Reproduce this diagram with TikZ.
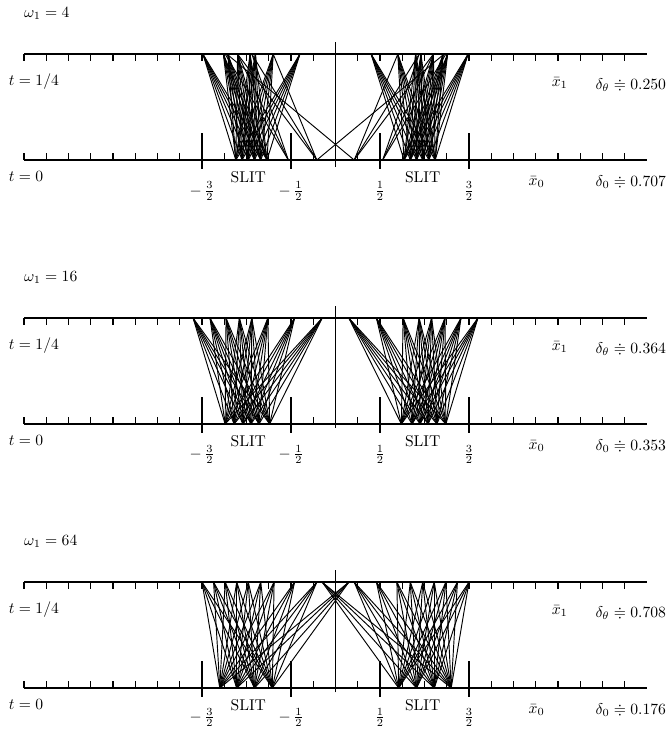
\documentclass[tikz,border=0pt]{standalone}
\usepackage{amsmath,amssymb}

\begin{document}
\begin{tikzpicture}[x=2cm, y=2cm,
    axis/.style={line width=1pt},
    tick/.style={line width=0.7pt},
    ray/.style={line width=0.6pt},
    lbl/.style={inner sep=1pt},
    frc/.style={inner sep=0pt}
  ]
    \useasboundingbox (-3.770,-6.416) rectangle (3.781,1.798);

    %% Panel 1: omega_1 = 4
    \begin{scope}
      \draw[axis] (-3.5,0) -- (3.5,0);
      \draw[axis] (-3.5,1.19) -- (3.5,1.19);
      \foreach \i in {-14,...,13} {
        \draw[tick] (\i/4,0) -- ++(0,0.08);
        \draw[tick] (\i/4,1.19) -- ++(0,-0.08);
      }
      \foreach \x in {-1.5,-0.5,0.5,1.5}
        \draw[tick] (\x,-0.1) -- (\x,0.3);
      \draw[tick] (0,-0.08) -- (0,1.33);
      %% rays of the left slit and their mirror image
      \foreach \s in {1,-1} {
        \begin{scope}[xscale=\s]
          \foreach \b in {-1.12,-1.05,-0.98,-0.91,-0.84,-0.77}
            \foreach \t in {-1.49,-1.26,-1.21,-1.10,-0.96,-0.90,-0.70,-0.40}
              \draw[ray] (\b,0) -- (\t,1.19);
          \foreach \t in {-1.24,-1.10,-0.94}
            \draw[ray] (-0.53,0) -- (\t,1.19);
          \foreach \t in {-1.10,-0.94,-0.70,1.22}
            \draw[ray] (-0.21,0) -- (\t,1.19);
        \end{scope}
      }
      \node[lbl, anchor=west] (wa) at (-3.52,1.65) {$\omega_1 = 4$};
      \node[lbl, anchor=west] (tqa) at (-3.69,0.876) {$t = 1/4$};
      \node[lbl, anchor=west] (tza) at (-3.69,-0.18) {$t = 0$};
      \node[lbl] (xia) at (2.52,0.865) {$\bar{x}_1$};
      \node[lbl, anchor=east] (dta) at (3.735,0.84) {$\delta_\theta \doteqdot 0.250$};
      \node[lbl] (xoa) at (2.26,-0.25) {$\bar{x}_0$};
      \node[lbl, anchor=east] (doa) at (3.735,-0.25) {$\delta_0 \doteqdot 0.707$};
      \node[lbl] (sla) at (-0.98,-0.19) {SLIT};
      \node[lbl] (sra) at (0.98,-0.19) {SLIT};
      \node[frc] (fa1) at (-1.5,-0.35) {$-\,\frac{3}{2}$};
      \node[frc] (fa2) at (-0.5,-0.35) {$-\,\frac{1}{2}$};
      \node[frc] (fa3) at (0.5,-0.35) {$\frac{1}{2}$};
      \node[frc] (fa4) at (1.5,-0.35) {$\frac{3}{2}$};
    \end{scope}

    %% Panel 2: omega_1 = 16
    \begin{scope}[yshift=-5.933cm]
      \draw[axis] (-3.5,0) -- (3.5,0);
      \draw[axis] (-3.5,1.19) -- (3.5,1.19);
      \foreach \i in {-14,...,13} {
        \draw[tick] (\i/4,0) -- ++(0,0.08);
        \draw[tick] (\i/4,1.19) -- ++(0,-0.08);
      }
      \foreach \x in {-1.5,-0.5,0.5,1.5}
        \draw[tick] (\x,-0.1) -- (\x,0.3);
      \draw[tick] (0,-0.04) -- (0,1.33);
      %% rays of the left slit and their mirror image
      \foreach \s in {1,-1} {
        \begin{scope}[xscale=\s]
          \foreach \b in {-1.24,-1.14,-1.04,-0.95,-0.86,-0.74}
            \foreach \t in {-1.60,-1.41,-1.23,-1.08,-0.94,-0.76,-0.46,-0.15}
              \draw[ray] (\b,0) -- (\t,1.19);
        \end{scope}
      }
      \node[lbl, anchor=west] (wb) at (-3.52,1.65) {$\omega_1 = 16$};
      \node[lbl, anchor=west] (tqb) at (-3.69,0.876) {$t = 1/4$};
      \node[lbl, anchor=west] (tzb) at (-3.69,-0.18) {$t = 0$};
      \node[lbl] (xib) at (2.52,0.865) {$\bar{x}_1$};
      \node[lbl, anchor=east] (dtb) at (3.735,0.84) {$\delta_\theta \doteqdot 0.364$};
      \node[lbl] (xob) at (2.26,-0.25) {$\bar{x}_0$};
      \node[lbl, anchor=east] (dob) at (3.735,-0.25) {$\delta_0 \doteqdot 0.353$};
      \node[lbl] (slb) at (-0.98,-0.19) {SLIT};
      \node[lbl] (srb) at (0.98,-0.19) {SLIT};
      \node[frc] (fb1) at (-1.5,-0.34) {$-\,\frac{3}{2}$};
      \node[frc] (fb2) at (-0.5,-0.34) {$-\,\frac{1}{2}$};
      \node[frc] (fb3) at (0.5,-0.34) {$\frac{1}{2}$};
      \node[frc] (fb4) at (1.5,-0.34) {$\frac{3}{2}$};
    \end{scope}

    %% Panel 3: omega_1 = 64
    \begin{scope}[yshift=-11.866cm]
      \draw[axis] (-3.5,0) -- (3.5,0);
      \draw[axis] (-3.5,1.19) -- (3.5,1.19);
      \foreach \i in {-14,...,13} {
        \draw[tick] (\i/4,0) -- ++(0,0.08);
        \draw[tick] (\i/4,1.19) -- ++(0,-0.08);
      }
      \foreach \x in {-1.5,-0.5,0.5,1.5}
        \draw[tick] (\x,-0.1) -- (\x,0.3);
      \draw[tick] (0,-0.05) -- (0,1.33);
      %% rays of the left slit and their mirror image
      \foreach \s in {1,-1} {
        \begin{scope}[xscale=\s]
          \foreach \b in {-1.30,-1.11,-0.91,-0.71}
            \foreach \t in {-1.50,-1.37,-1.24,-1.11,-0.98,-0.84,-0.69,-0.46,-0.21,0.15}
              \draw[ray] (\b,0) -- (\t,1.19);
        \end{scope}
      }
      \node[lbl, anchor=west] (wc) at (-3.52,1.65) {$\omega_1 = 64$};
      \node[lbl, anchor=west] (tqc) at (-3.69,0.876) {$t = 1/4$};
      \node[lbl, anchor=west] (tzc) at (-3.69,-0.18) {$t = 0$};
      \node[lbl] (xic) at (2.52,0.865) {$\bar{x}_1$};
      \node[lbl, anchor=east] (dtc) at (3.735,0.84) {$\delta_\theta \doteqdot 0.708$};
      \node[lbl] (xoc) at (2.26,-0.25) {$\bar{x}_0$};
      \node[lbl, anchor=east] (doc) at (3.735,-0.25) {$\delta_0 \doteqdot 0.176$};
      \node[lbl] (slc) at (-0.98,-0.19) {SLIT};
      \node[lbl] (src) at (0.98,-0.19) {SLIT};
      \node[frc] (fc1) at (-1.5,-0.33) {$-\,\frac{3}{2}$};
      \node[frc] (fc2) at (-0.5,-0.33) {$-\,\frac{1}{2}$};
      \node[frc] (fc3) at (0.5,-0.33) {$\frac{1}{2}$};
      \node[frc] (fc4) at (1.5,-0.33) {$\frac{3}{2}$};
    \end{scope}
  \end{tikzpicture}
\end{document}
